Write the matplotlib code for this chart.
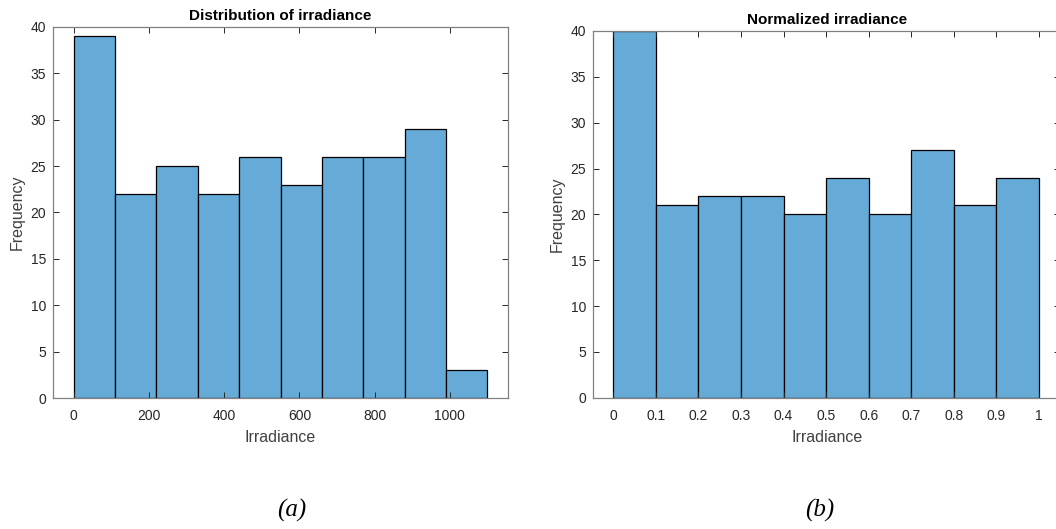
import numpy as np
import matplotlib
matplotlib.use("Agg")
import matplotlib.pyplot as plt

plt.rcParams['font.family'] = ['Liberation Sans', 'DejaVu Sans']

# histogram (a): raw irradiance
edges_a = [0, 110, 220, 330, 440, 550, 660, 770, 880, 990, 1100]
counts_a = [39, 22, 25, 22, 26, 23, 26, 26, 29, 3]
xticks_a = [0, 200, 400, 600, 800, 1000]

# histogram (b): normalized irradiance
edges_b = [0, 0.1, 0.2, 0.3, 0.4, 0.5, 0.6, 0.7, 0.8, 0.9, 1.0]
counts_b = [40, 21, 22, 22, 20, 24, 20, 27, 21, 24]
xticks_b = [0, 0.1, 0.2, 0.3, 0.4, 0.5, 0.6, 0.7, 0.8, 0.9, 1]
xticklabels_b = ['0', '0.1', '0.2', '0.3', '0.4', '0.5', '0.6', '0.7', '0.8', '0.9', '1']

yticks = [0, 5, 10, 15, 20, 25, 30, 35, 40]

face = '#66aad7'
axcol = '#262626'

fig = plt.figure(figsize=(10.56, 5.29), dpi=100)
ax1 = fig.add_axes([0.0502, 0.2476, 0.431, 0.7014])
ax2 = fig.add_axes([0.5618, 0.2482, 0.4422, 0.6932])


def style(ax, title):
    ax.set_title(title, fontsize=11, fontweight='bold', color='black', pad=5)
    ax.set_xlabel('Irradiance', fontsize=11.5, color='#404040', labelpad=5)
    ax.set_ylabel('Frequency', fontsize=11.5, color='#404040', labelpad=4)
    ax.set_ylim(0, 40)
    ax.set_yticks(yticks)
    ax.tick_params(direction='in', top=True, right=True, length=4, width=0.7,
                   color=axcol, labelcolor=axcol, labelsize=10, pad=5)
    ax.tick_params(axis='x', pad=8)
    for s in ax.spines.values():
        s.set_color('#808080')
        s.set_linewidth(0.9)


ax1.bar(edges_a[:-1], counts_a, width=np.diff(edges_a), align='edge',
        color=face, edgecolor='black', linewidth=0.9)
ax1.set_xlim(-55, 1155)
ax1.set_xticks(xticks_a)
style(ax1, 'Distribution of irradiance')

ax2.bar(edges_b[:-1], counts_b, width=np.diff(edges_b), align='edge',
        color=face, edgecolor='black', linewidth=0.9)
ax2.set_xlim(-0.047, 1.05)
ax2.set_xticks(xticks_b)
ax2.set_xticklabels(xticklabels_b)
style(ax2, 'Normalized irradiance')

fig.text(292 / 1056, 1 - 510 / 529, '(a)', fontsize=18, style='italic',
         family='Liberation Serif', ha='center', va='center')
fig.text(820 / 1056, 1 - 510 / 529, '(b)', fontsize=18, style='italic',
         family='Liberation Serif', ha='center', va='center')

fig.savefig('out.png', dpi=100)
